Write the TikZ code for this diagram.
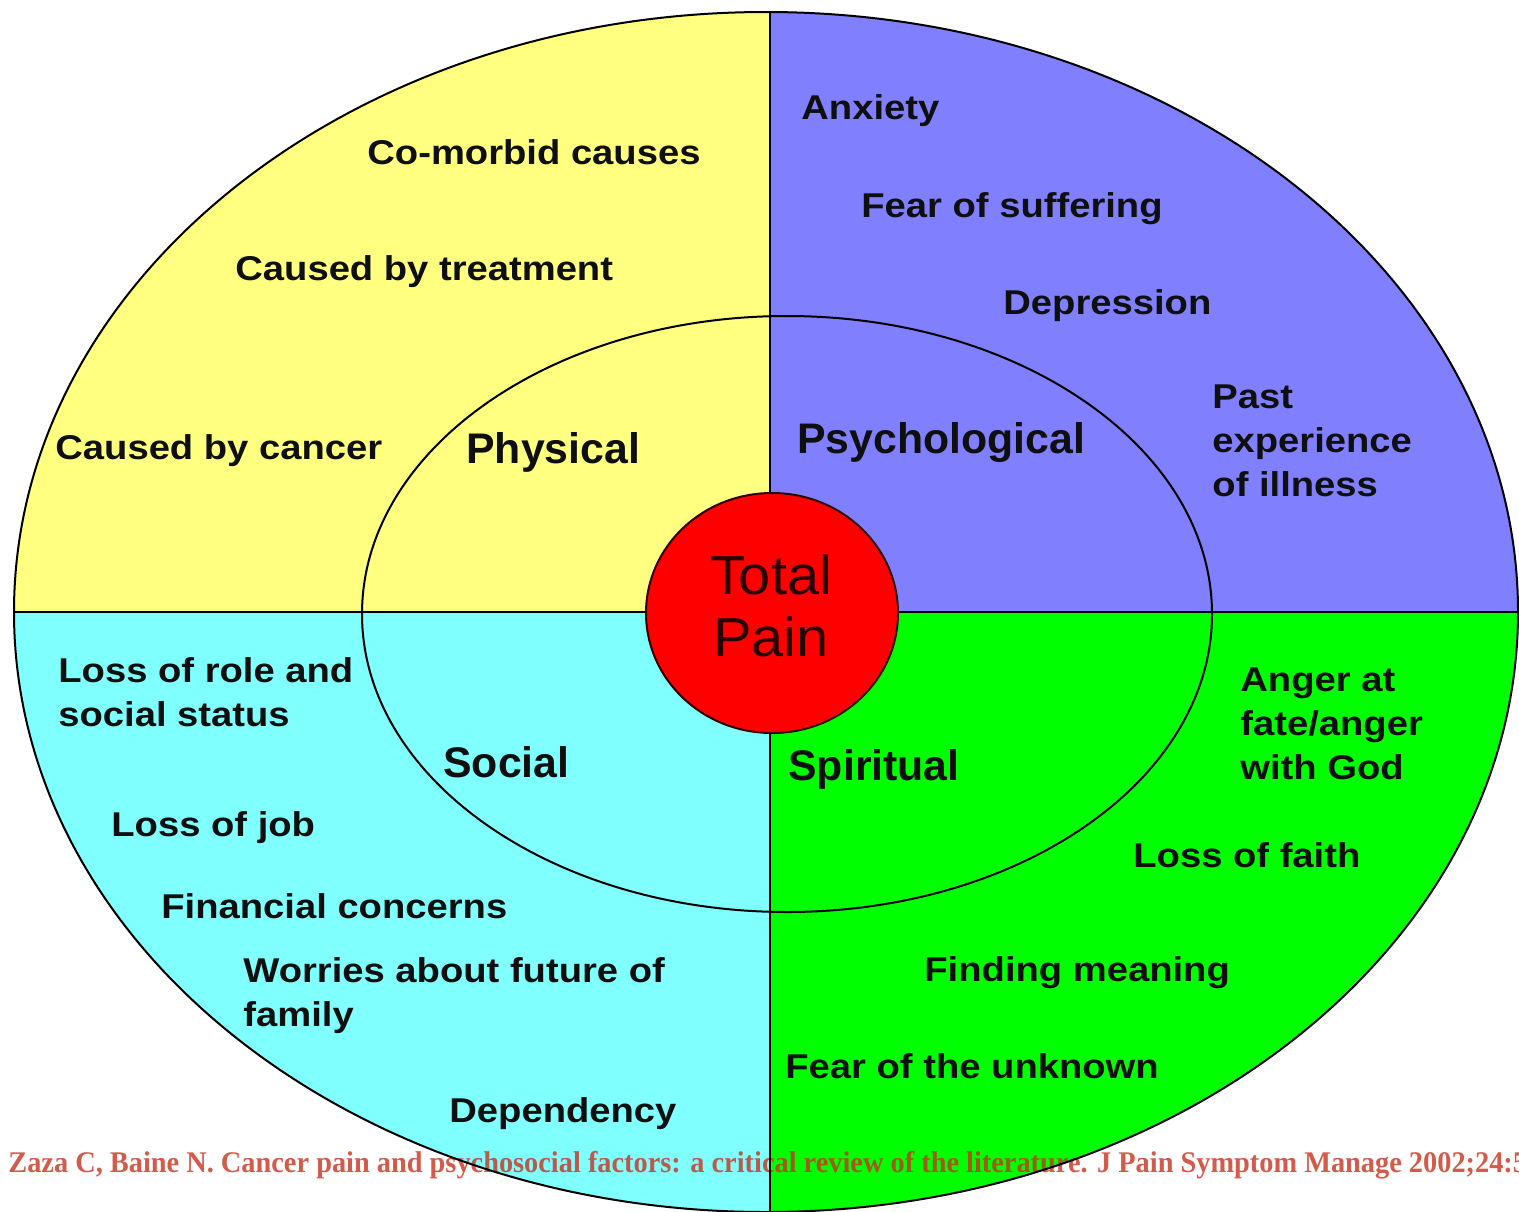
\documentclass[tikz,border=0pt]{standalone}
\usepackage{fontspec}
\usetikzlibrary{shapes.geometric}
\setmainfont{Liberation Sans}
\newfontfamily\labfont[FakeStretch=1.11]{Liberation Sans}
\newfontfamily\innfont[FakeStretch=1.0]{Liberation Sans}
\newfontfamily\painfont[FakeStretch=1.05]{Liberation Sans}
\newfontfamily\citefont[FakeStretch=0.945]{Liberation Serif}
\definecolor{cyel}{RGB}{255,255,128}
\definecolor{cblu}{RGB}{128,128,255}
\definecolor{ccya}{RGB}{128,255,255}
\definecolor{cgrn}{RGB}{0,255,0}
\definecolor{cred}{RGB}{255,0,0}
\definecolor{ccite}{RGB}{200,50,30}
\definecolor{ctxt}{RGB}{15,15,15}
\tikzset{
  lab/.style={font=\labfont\bfseries\fontsize{17.2}{22}\selectfont, text=ctxt, inner sep=0pt, anchor=base west},
  mlab/.style={font=\labfont\bfseries\fontsize{17.2}{22}\selectfont, text=ctxt, inner sep=0pt, anchor=west, align=left},
  inlab/.style={font=\innfont\bfseries\fontsize{21.4}{24}\selectfont, text=ctxt, inner sep=0pt, anchor=base west},
  outline/.style={draw=black, line width=1pt}
}
\begin{document}
\begin{tikzpicture}[x=0.5pt,y=-0.5pt]
\useasboundingbox (0,0) rectangle (1519,1211);
\clip (0,0) rectangle (1519,1211);
% quadrants
\begin{scope}
  \clip (766,612) ellipse [x radius=752, y radius=600];
  \fill[cyel] (0,0) rectangle (770,612);
  \fill[cblu] (770,0) rectangle (1519,612);
  \fill[ccya] (0,612) rectangle (770,1211);
  \fill[cgrn] (770,612) rectangle (1519,1211);
\end{scope}
% citation
\node[font=\citefont\bfseries\fontsize{15}{18}\selectfont, text=ccite, text opacity=0.8, inner sep=0pt, anchor=base west] (cite) at (8,1172) {Zaza C, Baine N. Cancer pain and psychosocial factors: a critical review of the literature. J Pain Symptom Manage 2002;24:5};
\begin{scope}
  \clip (766,612) ellipse [x radius=752, y radius=600];
  \draw[outline] (770,0) -- (770,1211);
  \draw[outline] (0,612) -- (1519,612);
\end{scope}
\draw[outline] (766,612) ellipse [x radius=752, y radius=600];
\draw[outline] (787,614) ellipse [x radius=425, y radius=298];
\node[ellipse, fill=cred, draw=black!80!red, line width=1pt, minimum width=126pt, minimum height=120pt, inner sep=0pt] (pain) at (772,613) {};
\node[font=\painfont\fontsize{27.5}{31}\selectfont, text={rgb,255:red,40;green,0;blue,0}, align=center, inner sep=0pt] (paintxt) at (771,606) {Total\\Pain};
% physical
\node[lab] (comorbid) at (367,164) {Co-morbid causes};
\node[lab] (treat) at (235,280) {Caused by treatment};
\node[lab] (cancer) at (55,459) {Caused by cancer};
\node[inlab] (phys) at (466,463) {Physical};
% psychological
\node[lab] (anx) at (801,119) {Anxiety};
\node[lab] (fear) at (861,217) {Fear of suffering};
\node[lab] (dep) at (1003,314) {Depression};
\node[inlab] (psy) at (797,453) {Psychological};
\node[mlab] (past) at (1212,441) {Past\\experience\\of illness};
% social
\node[mlab] (role) at (58,692) {Loss of role and\\social status};
\node[inlab] (soc) at (443,777) {Social};
\node[lab] (job) at (111,836) {Loss of job};
\node[lab] (fin) at (161,918) {Financial concerns};
\node[mlab] (worry) at (243,996) {Worries about future of\\family};
\node[lab] (dependency) at (449,1122) {Dependency};
% spiritual
\node[inlab] (spir) at (788,780) {Spiritual};
\node[mlab] (anger) at (1240,724) {Anger at\\fate/anger\\with God};
\node[lab] (faith) at (1133,867) {Loss of faith};
\node[lab] (meaning) at (924,981) {Finding meaning};
\node[lab] (unknown) at (785,1078) {Fear of the unknown};
\end{tikzpicture}
\end{document}
